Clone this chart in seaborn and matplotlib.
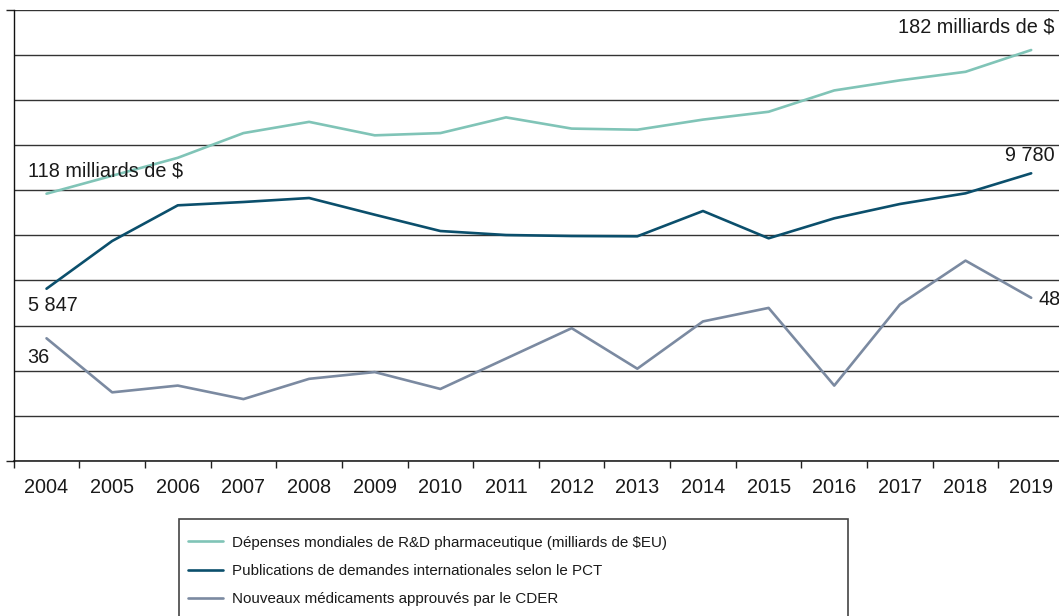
import numpy as np
import pandas as pd
import matplotlib
matplotlib.use("Agg")
import matplotlib.pyplot as plt
from matplotlib.patches import Rectangle
from matplotlib.ticker import FixedLocator
import seaborn as sns

years = ["2004", "2005", "2006", "2007", "2008", "2009", "2010", "2011",
         "2012", "2013", "2014", "2015", "2016", "2017", "2018", "2019"]
rd_spending = [118, 126, 134, 145, 150, 144, 145, 152, 147, 146.5, 151, 154.5, 164, 168.5, 172.3, 182]
pct_publications = [5847, 7473, 8689, 8802, 8938, 8369, 7813, 7677, 7643, 7633, 8495, 7565, 8246, 8734, 9098, 9780]
cder_approvals = [36, 20, 22, 18, 24, 26, 21, 30, 39, 27, 41, 45, 22, 46, 59, 48]

labels = ["Dépenses mondiales de R&D pharmaceutique (milliards de $EU)",
          "Publications de demandes internationales selon le PCT",
          "Nouveaux médicaments approuvés par le CDER"]
colors = ["#80c4b7", "#0b4f6c", "#7b8aa1"]

sns.set_style("white")
plt.rcParams["font.family"] = ["Liberation Sans", "DejaVu Sans"]

W, H = 1059, 616
fig = plt.figure(figsize=(W / 100, H / 100), dpi=100)
ax_left, ax_right, ax_top, ax_bottom = 13.7, 1064.0, 9.7, 461.0
ax = fig.add_axes([ax_left / W, 1 - ax_bottom / H, (ax_right - ax_left) / W, (ax_bottom - ax_top) / H])

x = np.arange(len(years))
ax.set_xlim(-0.5, len(years) - 0.5)
ax.set_ylim(0, 10)
ax.set_xticks(x)
ax.set_xticklabels(years, fontsize=14.3, color="#1a1a1a")
ax.xaxis.set_minor_locator(FixedLocator(np.arange(-0.5, len(years), 1.0)))
ax.tick_params(axis="x", which="major", length=0, pad=12)
ax.tick_params(axis="x", which="minor", length=5.2, width=1, color="#222222", direction="out", bottom=True)
ax.set_yticks([0, 10])
ax.set_yticklabels([])
ax.yaxis.set_minor_locator(FixedLocator(np.arange(1, 10)))
ax.tick_params(axis="y", which="major", length=5.8, width=1, color="#222222", direction="out", left=True)
ax.tick_params(axis="y", which="minor", length=0)
ax.grid(False, axis="x")
ax.grid(True, axis="y", which="both", color="#333333", linewidth=1.0)
for side in ["top", "right"]:
    ax.spines[side].set_visible(False)
ax.spines["left"].set_color("#111111")
ax.spines["left"].set_linewidth(1.0)
ax.spines["bottom"].set_color("#111111")
ax.spines["bottom"].set_linewidth(1.1)

series = [rd_spending, pct_publications, cder_approvals]
ylims = [(-1.06, 199.96), (-25, 15356), (-0.33, 133.3)]
twins = []
lines = []
for vals, col, lim, lab in zip(series, colors, ylims, labels):
    t = ax.twinx()
    df = pd.DataFrame({"x": x, "y": vals})
    sns.lineplot(data=df, x="x", y="y", ax=t, color=col, linewidth=1.9, label=lab, legend=False)
    t.set_ylim(*lim)
    t.set_axis_off()
    t.patch.set_visible(False)
    twins.append(t)
    lines.append(t.get_lines()[-1])

txt = dict(fontsize=14.3, color="#1a1a1a", textcoords="offset pixels")
twins[0].annotate("118 milliards de $", (x[0], rd_spending[0]), xytext=(-19, 23), ha="left", va="center", **txt)
twins[0].annotate("182 milliards de $", (x[-1], rd_spending[-1]), xytext=(23, 23), ha="right", va="center", **txt)
twins[1].annotate("5 847", (x[0], pct_publications[0]), xytext=(-19, -17), ha="left", va="center", **txt)
twins[1].annotate("9 780", (x[-1], pct_publications[-1]), xytext=(23, 18), ha="right", va="center", **txt)
twins[2].annotate("36", (x[0], cder_approvals[0]), xytext=(-19, -19), ha="left", va="center", **txt)
twins[2].annotate("48", (x[-1], cder_approvals[-1]), xytext=(7, -1.5), ha="left", va="center", **txt)

# legend box
fig.patches.append(Rectangle((179 / W, -0.1), (848 - 179) / W, (H - 519) / H + 0.1,
                             transform=fig.transFigure, fill=False, edgecolor="#444444", linewidth=1.2))
leg = fig.legend(handles=lines, labels=labels, loc="upper left",
                 bbox_to_anchor=(188 / W, 1 - 535.5 / H), frameon=False, borderpad=0, borderaxespad=0,
                 handlelength=2.3, handletextpad=0.6, labelspacing=0.95,
                 prop={"family": ["Liberation Sans", "DejaVu Sans"], "size": 10.9})
for t in leg.get_texts():
    t.set_color("#1a1a1a")

fig.savefig("out.png", dpi=100)
